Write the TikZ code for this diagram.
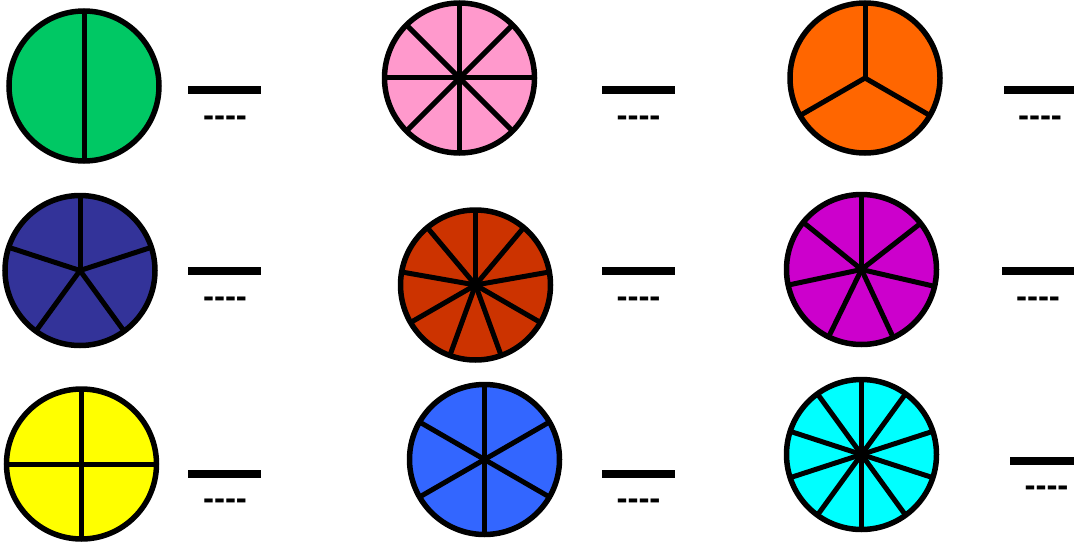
\documentclass[tikz,border=0pt]{standalone}
\usepackage{fontspec}
\setmainfont{Liberation Sans}
\definecolor{cgreen}{RGB}{0,200,100}
\definecolor{cpink}{RGB}{255,153,204}
\definecolor{corange}{RGB}{255,102,0}
\definecolor{cnavy}{RGB}{51,51,153}
\definecolor{cred}{RGB}{204,51,0}
\definecolor{cmagenta}{RGB}{204,0,204}
\definecolor{cyellow}{RGB}{255,255,0}
\definecolor{cblue}{RGB}{51,102,255}
\definecolor{ccyan}{RGB}{0,255,255}
\newcommand{\blankdash}{-{}-{}-{}-}
\begin{document}
\begin{tikzpicture}[x=1pt,y=-1pt,
  pie/.style={circle, draw=black, line width=5.5pt, minimum size=150pt, inner sep=0pt, outer sep=0pt},
  spoke/.style={line width=5pt},
  fracbar/.style={fill=black, inner sep=0pt, outer sep=0pt, minimum width=73pt, minimum height=8pt},
  blank/.style={font=\fontsize{33}{33}\selectfont\bfseries, inner sep=0pt, anchor=base}]
\useasboundingbox (0,0) rectangle (1074,543);
% pies
\node[pie, fill=cgreen]   (p1) at (84,86) {};
\node[pie, fill=cpink]    (p2) at (459.5,78) {};
\node[pie, fill=corange]  (p3) at (865,78) {};
\node[pie, fill=cnavy]    (p4) at (80,270.5) {};
\node[pie, fill=cred]     (p5) at (475.5,285) {};
\node[pie, fill=cmagenta] (p6) at (861.5,269.5) {};
\node[pie, fill=cyellow]  (p7) at (81.5,464) {};
\node[pie, fill=cblue]    (p8) at (484.5,459.5) {};
\node[pie, fill=ccyan]    (p9) at (861.5,454.5) {};
% spokes
\foreach \a in {90,270} \draw[spoke] (p1.center) -- (p1.\a);
\foreach \a in {0,45,...,315} \draw[spoke] (p2.center) -- (p2.\a);
\foreach \a in {90,210,330} \draw[spoke] (p3.center) -- (p3.\a);
\foreach \a in {90,162,234,306,378} \draw[spoke] (p4.center) -- (p4.\a);
\foreach \a in {90,130,...,410} \draw[spoke] (p5.center) -- (p5.\a);
\foreach \i in {0,...,6} \draw[spoke] (p6.center) -- (p6.{90+\i*360/7});
\foreach \a in {0,90,180,270} \draw[spoke] (p7.center) -- (p7.\a);
\foreach \a in {30,90,...,330} \draw[spoke] (p8.center) -- (p8.\a);
\foreach \a in {18,54,...,342} \draw[spoke] (p9.center) -- (p9.\a);
% fraction bars
\node[fracbar] (b1) at (224.5,90) {};
\node[fracbar] (b2) at (638.5,90) {};
\node[fracbar] (b3) at (1040.5,90) {};
\node[fracbar] (b4) at (224.5,271) {};
\node[fracbar] (b5) at (638.5,271) {};
\node[fracbar] (b6) at (1038.5,271) {};
\node[fracbar] (b7) at (224.5,474) {};
\node[fracbar] (b8) at (638.5,474) {};
\node[fracbar] (b9) at (1046.5,460.5) {};
% blanks
\node[blank] (d1) at (225,126) {\blankdash};
\node[blank] (d2) at (638.5,126) {\blankdash};
\node[blank] (d3) at (1040,126) {\blankdash};
\node[blank] (d4) at (225,307) {\blankdash};
\node[blank] (d5) at (638.5,307) {\blankdash};
\node[blank] (d6) at (1038,307) {\blankdash};
\node[blank] (d7) at (225,509) {\blankdash};
\node[blank] (d8) at (638.5,509) {\blankdash};
\node[blank] (d9) at (1046.5,496) {\blankdash};
\end{tikzpicture}
\end{document}
